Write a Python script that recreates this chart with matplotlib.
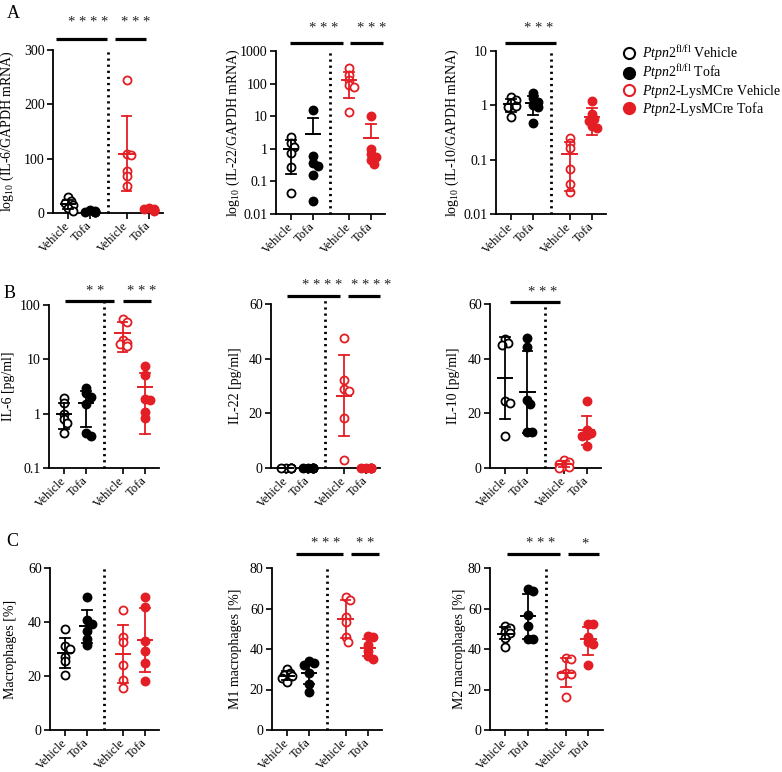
import numpy as np
import matplotlib
matplotlib.use("Agg")
import matplotlib.pyplot as plt
from matplotlib.lines import Line2D
from matplotlib.ticker import FixedLocator, FixedFormatter, NullLocator

plt.rcParams["font.family"] = ["Liberation Serif", "DejaVu Serif"]
plt.rcParams["mathtext.fontset"] = "custom"
plt.rcParams["mathtext.rm"] = "Liberation Serif"
plt.rcParams["mathtext.it"] = "Liberation Serif:italic"

BLACK = "#000000"
RED = "#e31e24"

# groups (same order in every panel)
group_names = ["Vehicle", "Tofa", "Vehicle", "Tofa"]
group_colors = [BLACK, BLACK, RED, RED]
group_open = [True, False, True, False]
legend_labels = [r"$\it{Ptpn2}^{\rm fl/fl}$ Vehicle",
                 r"$\it{Ptpn2}^{\rm fl/fl}$ Tofa",
                 r"$\it{Ptpn2}$-LysMCre Vehicle",
                 r"$\it{Ptpn2}$-LysMCre Tofa"]

# ---- A: mRNA ----
il6_mrna = [[30, 22, 18, 14, 10, 4], [5, 3, 2, 2, 1, 1],
            [244, 108, 106, 78, 68, 49], [10, 8, 7, 6, 5, 4]]
il6_mrna_mean = [16.3, 2.3, 109, 6.7]
il6_mrna_lo = [8, 1, 40, 4.6]
il6_mrna_hi = [24, 3.6, 178, 8.8]

il22_mrna = [[2.3, 1.5, 1.1, 0.75, 0.27, 0.045], [16, 0.6, 0.36, 0.3, 0.16, 0.025],
             [300, 180, 127, 89, 79, 13.5], [10.2, 1.0, 0.67, 0.57, 0.45, 0.34]]
il22_mrna_mean = [0.99, 2.9, 131, 2.2]
il22_mrna_lo = [0.17, np.nan, 35, np.nan]
il22_mrna_hi = [1.8, 9.1, 235, 5.7]

il10_mrna = [[1.44, 1.25, 1.09, 0.97, 0.92, 0.62], [1.71, 1.35, 1.17, 1.01, 0.92, 0.47],
             [0.254, 0.206, 0.166, 0.066, 0.036, 0.025], [1.22, 0.68, 0.56, 0.52, 0.41, 0.39]]
il10_mrna_mean = [1.05, 1.1, 0.125, 0.6]
il10_mrna_lo = [0.77, 0.66, 0.027, 0.29]
il10_mrna_hi = [1.33, 1.5, 0.215, 0.91]

# ---- B: protein ----
il6_pg = [[1.91, 1.55, 1.0, 0.8, 0.66, 0.45], [3.0, 2.36, 2.05, 1.48, 0.45, 0.39],
          [55, 49.4, 22.7, 20.3, 19.1, 17.5], [7.5, 5.1, 1.9, 1.8, 1.09, 0.84]]
il6_pg_mean = [1.0, 1.6, 30, 3.1]
il6_pg_lo = [0.52, 0.56, 13.8, 0.42]
il6_pg_hi = [1.55, 2.65, 48, 5.7]

il22_pg = [[0, 0, 0, 0, 0, 0], [0, 0, 0, 0, 0, 0],
           [47.6, 32.3, 29.0, 28.0, 18.3, 3.0], [0, 0, 0, 0, 0, 0]]
il22_pg_mean = [0, 0, 26.4, 0]
il22_pg_lo = [0, 0, 11.6, 0]
il22_pg_hi = [0, 0, 41.2, 0]

il10_pg = [[47.2, 45.6, 45.0, 24.6, 23.7, 11.6], [47.7, 44.2, 24.9, 23.4, 13.1, 13.0],
           [3.0, 2.1, 1.6, 0.6, 0.4, 0.1], [24.5, 14.0, 12.8, 12.2, 11.6, 8.2]]
il10_pg_mean = [33, 27.7, 1.3, 13.9]
il10_pg_lo = [17.9, 12.7, 0.2, 8.5]
il10_pg_hi = [47.8, 42.8, 2.4, 19.2]

# ---- C: macrophages ----
macro = [[37.5, 31.2, 30.0, 27.2, 25.4, 20.2], [49.1, 40.6, 39.4, 36.8, 33.8, 31.3],
         [44.3, 34.4, 32.5, 23.9, 18.6, 15.7], [49.1, 45.5, 32.8, 29.3, 24.8, 18.2]]
macro_mean = [28.5, 38.5, 28.2, 33.3]
macro_lo = [22.9, 32.4, 17.3, 21.3]
macro_hi = [34.0, 44.6, 39.0, 45.2]

m1 = [[30.2, 28.1, 27.2, 26.7, 25.6, 23.6], [34.0, 33.0, 32.3, 28.0, 22.8, 18.6],
      [65.7, 64.0, 55.9, 53.1, 45.7, 43.7], [46.2, 45.9, 42.1, 38.8, 36.3, 35.0]]
m1_mean = [26.9, 28.1, 54.7, 40.7]
m1_lo = [24.6, 22.6, 45.4, 36.3]
m1_hi = [29.2, 33.8, 64.0, 45.1]

m2 = [[51.5, 50.6, 48.2, 47.7, 45.5, 41.1], [69.7, 68.7, 56.8, 51.5, 44.9, 44.9],
      [35.6, 35.3, 28.3, 27.5, 27.0, 16.2], [52.3, 52.2, 46.0, 43.5, 42.7, 32.0]]
m2_mean = [47.5, 56.1, 28.3, 44.8]
m2_lo = [44.9, 45.0, 21.2, 37.0]
m2_hi = [50.7, 67.2, 35.6, 51.0]

# y ticks
log_ticks_a2 = [0.01, 0.1, 1, 10, 100, 1000]
log_ticks_a3 = [0.01, 0.1, 1, 10]
log_ticks_b1 = [0.1, 1, 10, 100]

# significance: (x0, x1, stars, star_x)
sig_a1 = [(-0.55, 1.77, "* * * *", 0.9), (2.14, 3.55, "* * *", 3.05)]
sig_a2 = [(-0.05, 2.38, "* * *", 1.52), (2.71, 4.19, "* * *", 3.71)]
sig_a3 = [(-0.27, 2.05, "* * *", 1.27)]
sig_b1 = [(0.04, 2.26, "* *", 1.43), (2.65, 3.96, "* * *", 3.52)]
sig_b2 = [(0.05, 2.48, "* * * *", 1.67), (2.86, 4.29, "* * * *", 3.9)]
sig_b3 = [(0.22, 2.48, "* * *", 1.7)]
sig_c2 = [(0.42, 2.54, "* * *", 1.75), (2.88, 4.17, "* *", 3.54)]
sig_c3 = [(0.09, 2.41, "* * *", 1.55), (2.77, 4.14, "*", 3.5)]

XPOS = [0, 1, 2.65, 3.65]
XDIV = 1.8
W, H = 782, 772
MS = 5.8  # marker size, pt

panels = [
    dict(rect=(53, 50, 163, 213), lab_x=10, data=il6_mrna, mean=il6_mrna_mean, lo=il6_mrna_lo, hi=il6_mrna_hi,
         ylabel=r"log$_{10}$ (IL-6/GAPDH mRNA)", log=False, ylim=(0, 300), ticks=[0, 100, 200, 300],
         sig=sig_a1, bar_y=1.067, star_y=1.17, div_top=1.0),
    dict(rect=(276, 51, 385, 214), lab_x=236, data=il22_mrna, mean=il22_mrna_mean, lo=il22_mrna_lo, hi=il22_mrna_hi,
         ylabel=r"log$_{10}$ (IL-22/GAPDH mRNA)", log=True, ylim=(0.01, 1000), ticks=log_ticks_a2,
         sig=sig_a2, bar_y=1.049, star_y=1.14, div_top=1.0),
    dict(rect=(496, 51, 606, 214), lab_x=455, data=il10_mrna, mean=il10_mrna_mean, lo=il10_mrna_lo, hi=il10_mrna_hi,
         ylabel=r"log$_{10}$ (IL-10/GAPDH mRNA)", log=True, ylim=(0.01, 10), ticks=log_ticks_a3,
         sig=sig_a3, bar_y=1.049, star_y=1.14, div_top=1.0),
    dict(rect=(49, 305, 159, 468), lab_x=9, data=il6_pg, mean=il6_pg_mean, lo=il6_pg_lo, hi=il6_pg_hi,
         ylabel="IL-6 [pg/ml]", log=True, ylim=(0.1, 100), ticks=log_ticks_b1,
         sig=sig_b1, bar_y=1.024, star_y=1.085, div_top=1.024),
    dict(rect=(271, 304, 380, 468), lab_x=236, data=il22_pg, mean=il22_pg_mean, lo=il22_pg_lo, hi=il22_pg_hi,
         ylabel="IL-22 [pg/ml]", log=False, ylim=(0, 60), ticks=[0, 20, 40, 60],
         sig=sig_b2, bar_y=1.049, star_y=1.11, div_top=1.049),
    dict(rect=(490, 304, 601, 468), lab_x=454, data=il10_pg, mean=il10_pg_mean, lo=il10_pg_lo, hi=il10_pg_hi,
         ylabel="IL-10 [pg/ml]", log=False, ylim=(0, 60), ticks=[0, 20, 40, 60],
         sig=sig_b3, bar_y=1.012, star_y=1.07, div_top=1.012),
    dict(rect=(50, 568, 159, 730), lab_x=11, data=macro, mean=macro_mean, lo=macro_lo, hi=macro_hi,
         ylabel="Macrophages [%]", log=False, ylim=(0, 60), ticks=[0, 20, 40, 60],
         sig=[], bar_y=1.0, star_y=1.0, div_top=1.0),
    dict(rect=(272, 568, 382, 730), lab_x=236, data=m1, mean=m1_mean, lo=m1_lo, hi=m1_hi,
         ylabel="M1 macrophages [%]", log=False, ylim=(0, 80), ticks=[0, 20, 40, 60, 80],
         sig=sig_c2, bar_y=1.086, star_y=1.15, div_top=1.0),
    dict(rect=(490, 568, 603, 730), lab_x=460, data=m2, mean=m2_mean, lo=m2_lo, hi=m2_hi,
         ylabel="M2 macrophages [%]", log=False, ylim=(0, 80), ticks=[0, 20, 40, 60, 80],
         sig=sig_c3, bar_y=1.086, star_y=1.15, div_top=1.0),
]

fig = plt.figure(figsize=(W / 100, H / 100), dpi=100)


def swarm_x(ax, x, ys, dpx, max_units):
    """simple beeswarm offsets in display space"""
    t = ax.transData
    ppu = t.transform((1, 1))[0] - t.transform((0, 1))[0]
    ypx = np.array([t.transform((x, y))[1] for y in ys])
    order = np.argsort(-ypx)
    placed = []
    offs = np.zeros(len(ys))
    step = 0.35 * dpx
    mind = 0.6 * dpx
    for i in order:
        cand = 0.0
        for k in range(40):
            cand = ((k + 1) // 2) * step * (1 if k % 2 else -1) if k else 0.0
            if all(np.hypot(cand - ox, ypx[i] - oy) >= mind for ox, oy in placed):
                break
        cand = np.clip(cand, -max_units * ppu, max_units * ppu)
        placed.append((cand, ypx[i]))
        offs[i] = cand
    return x + offs / ppu


for p in panels:
    l, t, r, b = p["rect"]
    ax = fig.add_axes([l / W, 1 - b / H, (r - l) / W, (b - t) / H])
    if p["log"]:
        ax.set_yscale("log")
    ax.set_xlim(-0.68, 4.3)
    ax.set_ylim(*p["ylim"])
    for s in ["top", "right"]:
        ax.spines[s].set_visible(False)
    for s in ["left", "bottom"]:
        ax.spines[s].set_linewidth(1.3)
    ax.yaxis.set_major_locator(FixedLocator(p["ticks"]))
    ax.yaxis.set_major_formatter(FixedFormatter([f"{v:g}" for v in p["ticks"]]))
    ax.yaxis.set_minor_locator(NullLocator())
    ax.set_xticks(XPOS)
    ax.set_xticklabels(group_names, rotation=45, ha="right", va="center",
                       rotation_mode="anchor", fontsize=9)
    ax.tick_params(axis="both", direction="out", length=4, width=1.2, labelsize=10, pad=2)
    ax.tick_params(axis="x", labelsize=9, pad=4)
    ax.set_ylabel(p["ylabel"], fontsize=10)
    ax.yaxis.set_label_coords((p["lab_x"] + 6 - l) / (r - l), 0.5)

    dpx = MS * 100 / 72
    for i, x in enumerate(XPOS):
        ys = np.array(p["data"][i], dtype=float)
        xs = swarm_x(ax, x, ys, dpx, 0.22)
        c = group_colors[i]
        if group_open[i]:
            ax.scatter(xs, ys, s=MS ** 2, facecolors="white", edgecolors=c,
                       linewidths=1.3, zorder=3, clip_on=False)
        else:
            ax.scatter(xs, ys, s=MS ** 2, facecolors=c, edgecolors=c,
                       linewidths=1.3, zorder=3, clip_on=False)
        m, lo, hi = p["mean"][i], p["lo"][i], p["hi"][i]
        bottom = m if np.isnan(lo) else lo
        ax.plot([x, x], [bottom, hi], color=c, lw=1.3, zorder=4, clip_on=False)
        ax.plot([x - 0.22, x + 0.22], [hi, hi], color=c, lw=1.3, zorder=4, clip_on=False)
        if not np.isnan(lo):
            ax.plot([x - 0.22, x + 0.22], [lo, lo], color=c, lw=1.3, zorder=4, clip_on=False)
        ax.plot([x - 0.32, x + 0.32], [m, m], color=c, lw=1.4, zorder=4, clip_on=False)

    # dotted divider
    ax.plot([XDIV, XDIV], [0, p["div_top"]], transform=ax.get_xaxis_transform(),
            color=BLACK, lw=2.0, ls=(0, (0.8, 1.4)), clip_on=False, zorder=2)

    for x0, x1, stars, sx in p["sig"]:
        ax.plot([x0, x1], [p["bar_y"], p["bar_y"]], transform=ax.get_xaxis_transform(),
                color=BLACK, lw=2.3, clip_on=False, solid_capstyle="butt")
        ax.text(sx, p["star_y"], stars, transform=ax.get_xaxis_transform(),
                ha="center", va="center", fontsize=10.5, color="#222222")

# panel letters
fig.text(7 / W, 1 - 13 / H, "A", fontsize=13, va="center", ha="left")
fig.text(4 / W, 1 - 293 / H, "B", fontsize=13, va="center", ha="left")
fig.text(6 / W, 1 - 542 / H, "C", fontsize=13, va="center", ha="left")

# legend
handles = []
for c, o in zip(group_colors, group_open):
    handles.append(Line2D([], [], ls="none", marker="o", markersize=8,
                          markerfacecolor="white" if o else c,
                          markeredgecolor=c, markeredgewidth=1.5))
fig.legend(handles, legend_labels, loc="upper left",
           bbox_to_anchor=(623 / W, 1 - 43 / H), frameon=False, fontsize=10,
           handlelength=0.9, handletextpad=0.45, labelspacing=0.02,
           borderpad=0, borderaxespad=0)

fig.savefig("out.png", dpi=100)
